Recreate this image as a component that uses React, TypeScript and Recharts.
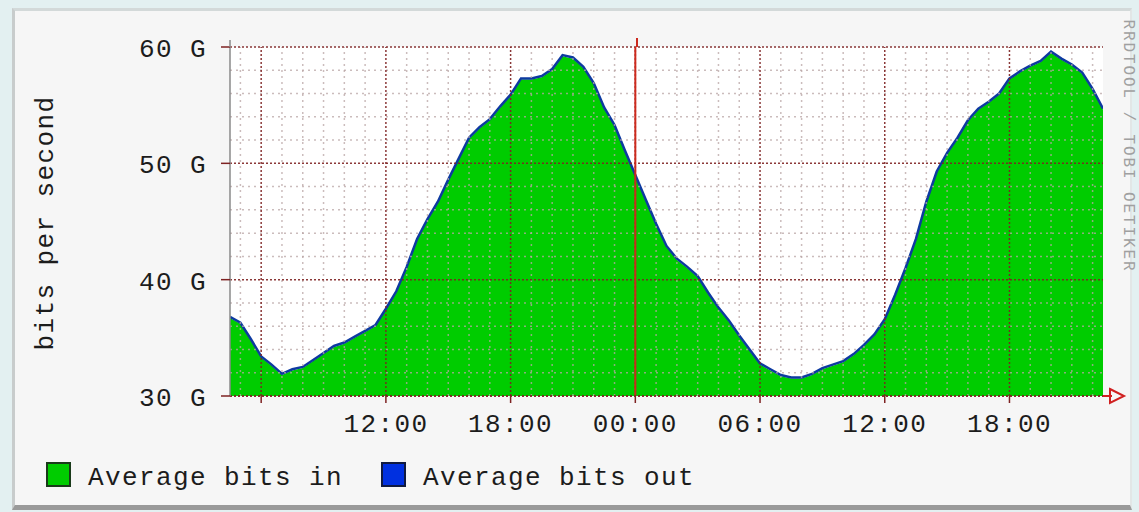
import React from 'react';
import { ComposedChart, Area, Line, XAxis, YAxis, CartesianGrid, ReferenceLine } from 'recharts';

// hours since midnight of day one
const hours = [
  4.5, 5, 5.5, 6, 6.5, 7, 7.5, 8, 8.5, 9, 9.5, 10, 10.5, 11, 11.5, 12, 12.5, 13, 13.5, 14, 14.5,
  15, 15.5, 16, 16.5, 17, 17.5, 18, 18.5, 19, 19.5, 20, 20.5, 21, 21.5, 22, 22.5, 23, 23.5, 24,
  24.5, 25, 25.5, 26, 26.5, 27, 27.5, 28, 28.5, 29, 29.5, 30, 30.5, 31, 31.5, 32, 32.5, 33, 33.5,
  34, 34.5, 35, 35.5, 36, 36.5, 37, 37.5, 38, 38.5, 39, 39.5, 40, 40.5, 41, 41.5, 42, 42.5, 43,
  43.5, 44, 44.5, 45, 45.5, 46, 46.5,
];

// Gbit/s
const bitsIn = [
  36.7, 36.2, 34.8, 33.3, 32.6, 31.8, 32.2, 32.4, 33.0, 33.6, 34.2, 34.5, 35.0, 35.5, 36.0, 37.4, 38.9, 41.0, 43.4, 45.1, 46.6,
  48.5, 50.3, 52.1, 53.0, 53.7, 54.8, 55.8, 57.2, 57.2, 57.4, 58.0, 59.2, 59.0, 58.2, 56.8, 54.7, 53.2, 51.0, 48.9,
  46.8, 44.7, 42.8, 41.7, 41.0, 40.2, 38.8, 37.5, 36.4, 35.1, 33.9, 32.7, 32.2, 31.7, 31.5, 31.5, 31.8, 32.3, 32.6,
  32.9, 33.5, 34.3, 35.2, 36.5, 38.6, 40.9, 43.4, 46.6, 49.2, 50.8, 52.1, 53.6, 54.6, 55.2, 55.9, 57.2, 57.8, 58.3,
  58.7, 59.5, 58.9, 58.4, 57.7, 56.3, 54.6,
];

const bitsOut = [
  36.8, 36.3, 34.9, 33.4, 32.7, 31.9, 32.3, 32.5, 33.1, 33.7, 34.3, 34.6, 35.1, 35.6, 36.1, 37.5, 39.0, 41.1, 43.5, 45.2, 46.7,
  48.6, 50.4, 52.2, 53.1, 53.8, 54.9, 55.9, 57.3, 57.3, 57.5, 58.1, 59.3, 59.1, 58.3, 56.9, 54.8, 53.3, 51.1, 49.0,
  46.9, 44.8, 42.9, 41.8, 41.1, 40.3, 38.9, 37.6, 36.5, 35.2, 34.0, 32.8, 32.3, 31.8, 31.6, 31.6, 31.9, 32.4, 32.7,
  33.0, 33.6, 34.4, 35.3, 36.6, 38.7, 41.0, 43.5, 46.7, 49.3, 50.9, 52.2, 53.7, 54.7, 55.3, 56.0, 57.3, 57.9, 58.4,
  58.8, 59.6, 59.0, 58.5, 57.8, 56.4, 54.7,
];

const yTicks = [30, 40, 50, 60];
const yTickLabels = ['30 G', '40 G', '50 G', '60 G'];
const yMinor = [32, 34, 36, 38, 42, 44, 46, 48, 52, 54, 56, 58];
const xMajor = [6, 12, 18, 24, 30, 36, 42];
const xTickLabels = ['', '12:00', '18:00', '00:00', '06:00', '12:00', '18:00'];
const xMinor = [
  5, 7, 8, 9, 10, 11, 13, 14, 15, 16, 17, 19, 20, 21, 22, 23, 25, 26, 27, 28, 29,
  31, 32, 33, 34, 35, 37, 38, 39, 40, 41, 43, 44, 45, 46,
];
const midnight = 24;
const seriesNames = ['Average bits in', 'Average bits out'];

const data = hours.map((h, i) => ({ h, bitsIn: bitsIn[i], bitsOut: bitsOut[i] }));

const FONT = '"Liberation Mono", "DejaVu Sans Mono", monospace';
const FS = 26;
const LS = 1.4;
const TEXT = '#1c1c1c';
const GREEN = '#00cc00';
const BLUE = '#0d3aa0';
const MAJOR = '#7e2222';
const MINOR = '#b9a6a6';

const XTick = (props: any) => {
  const idx = xMajor.indexOf(props.payload.value);
  const label = idx >= 0 ? xTickLabels[idx] : '';
  return (
    <text x={props.x} y={432} textAnchor="middle" fontFamily={FONT} fontSize={FS} letterSpacing={LS} fill={TEXT}>
      {label}
    </text>
  );
};

const YTick = (props: any) => {
  const idx = yTicks.indexOf(props.payload.value);
  return (
    <text x={207} y={props.y + 10} textAnchor="end" fontFamily={FONT} fontSize={FS} letterSpacing={LS} fill={TEXT}>
      {idx >= 0 ? yTickLabels[idx] : ''}
    </text>
  );
};

export default function App() {
  return (
    <div style={{ position: 'absolute', left: 0, top: 0, width: 1139, height: 512, background: '#e3f0f1', overflow: 'hidden' }}>
      <div
        style={{
          position: 'absolute', left: 12, top: 8, width: 1120, height: 502, boxSizing: 'border-box',
          background: '#f6f6f6', borderTop: '3px solid #d3d9d9', borderLeft: '3px solid #c8cccc',
          borderBottom: '5px solid #9a9a9a', borderRight: '2px solid #e2e6e6',
        }}
      />
      <div style={{ position: 'absolute', left: 0, top: 0 }}>
        <ComposedChart width={1139} height={512} data={data} margin={{ top: 47, right: 36, bottom: 76, left: 0 }}>
          <CartesianGrid horizontal={false} vertical={false} fill="#ffffff" />
          <XAxis
            dataKey="h"
            type="number"
            domain={[4.5, 46.5]}
            ticks={xMajor}
            height={40}
            tick={XTick}
            tickSize={7}
            tickLine={{ stroke: MAJOR, strokeWidth: 1.5 }}
            axisLine={{ stroke: MAJOR, strokeDasharray: '2 2', strokeWidth: 1.5 }}
            allowDataOverflow
          />
          <YAxis
            type="number"
            domain={[30, 60]}
            ticks={yTicks}
            width={230}
            tick={YTick}
            tickSize={9}
            tickLine={{ stroke: MAJOR, strokeWidth: 1.5 }}
            axisLine={{ stroke: '#8a8a8a', strokeWidth: 1.5 }}
            allowDataOverflow
          />
          <Area
            dataKey="bitsIn"
            name={seriesNames[0]}
            type="linear"
            fill={GREEN}
            fillOpacity={1}
            stroke="none"
            isAnimationActive={false}
          />
          <Line
            dataKey="bitsOut"
            name={seriesNames[1]}
            type="linear"
            stroke={BLUE}
            strokeWidth={2.5}
            dot={false}
            isAnimationActive={false}
          />
          {xMinor.map((x) => (
            <ReferenceLine key={'vx' + x} x={x} stroke={MINOR} strokeOpacity={0.75} strokeWidth={1.5} strokeDasharray="2 4" />
          ))}
          {yMinor.map((y) => (
            <ReferenceLine key={'hy' + y} y={y} stroke={MINOR} strokeOpacity={0.75} strokeWidth={1.5} strokeDasharray="2 4" />
          ))}
          {xMajor.map((x) => (
            <ReferenceLine key={'mx' + x} x={x} stroke={MAJOR} strokeOpacity={0.9} strokeWidth={1.5} strokeDasharray="2 2" />
          ))}
          {yTicks.map((y) => (
            <ReferenceLine key={'my' + y} y={y} stroke={MAJOR} strokeOpacity={0.9} strokeWidth={1.5} strokeDasharray="2 2" />
          ))}
          <ReferenceLine x={midnight} stroke="#cc2a1e" strokeWidth={2} />
        </ComposedChart>
      </div>
      <svg width={1139} height={512} style={{ position: 'absolute', left: 0, top: 0, pointerEvents: 'none' }}>
        <line x1={1103} y1={396} x2={1112} y2={396} stroke="#d02020" strokeWidth={2} />
        <path d="M1110,389 L1124,396 L1110,403 Z" fill="none" stroke="#d02020" strokeWidth={2} />
        <line x1={230} y1={40} x2={230} y2={47} stroke="#8a8a8a" strokeWidth={1.5} />
        <line x1={637} y1={38} x2={637} y2={47} stroke="#cc2a1e" strokeWidth={2} />
        <text
          x={46}
          y={223}
          transform="rotate(-90 46 223)"
          textAnchor="middle"
          dominantBaseline="central"
          fontFamily={FONT}
          fontSize={FS}
          letterSpacing={LS}
          fill={TEXT}
        >
          bits per second
        </text>
        <text
          x={1128}
          y={146}
          transform="rotate(90 1128 146)"
          textAnchor="middle"
          dominantBaseline="central"
          fontFamily={FONT}
          fontSize={16}
          letterSpacing={1.9}
          fill="#a0a0a0"
        >
          RRDTOOL / TOBI OETIKER
        </text>
        <rect x={47} y={463} width={23} height={23} fill={GREEN} stroke="#1a3a1a" strokeWidth={2} />
        <text x={88} y={485} fontFamily={FONT} fontSize={FS} letterSpacing={LS} fill={TEXT}>
          {seriesNames[0]}
        </text>
        <rect x={382} y={463} width={23} height={23} fill="#0030e0" stroke="#101a40" strokeWidth={2} />
        <text x={423} y={485} fontFamily={FONT} fontSize={FS} letterSpacing={LS} fill={TEXT}>
          {seriesNames[1]}
        </text>
      </svg>
    </div>
  );
}
